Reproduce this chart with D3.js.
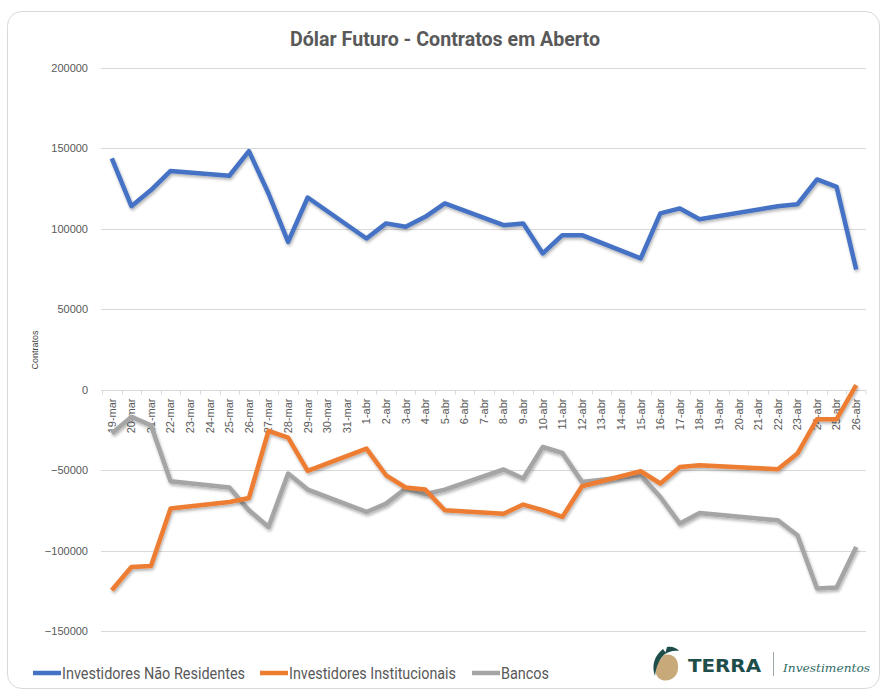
<!DOCTYPE html>
<html>
<head>
<meta charset="utf-8">
<script src="https://cdn.jsdelivr.net/npm/d3@7"></script>
<style>
  body { margin: 0; background: #fff; }
  text { font-family: 'Roboto', 'Liberation Sans', sans-serif; }
</style>
</head>
<body>
<div class="canvas"></div>
<script>
// data
const days = ["19-mar","20-mar","21-mar","22-mar","23-mar","24-mar","25-mar","26-mar","27-mar","28-mar","29-mar","30-mar","31-mar",
  "1-abr","2-abr","3-abr","4-abr","5-abr","6-abr","7-abr","8-abr","9-abr","10-abr","11-abr","12-abr","13-abr","14-abr","15-abr",
  "16-abr","17-abr","18-abr","19-abr","20-abr","21-abr","22-abr","23-abr","24-abr","25-abr","26-abr"];

const naoResidentes = [143800,114100,124100,136000,null,null,133000,148300,122000,91900,119500,null,null,
  94000,103400,101300,107500,115800,null,null,102300,103400,84700,96100,96100,null,null,81600,
  109600,112700,106000,null,null,null,114000,115300,130700,126100,74700];

const institucionais = [-124700,-110200,-109600,-73900,null,null,-69800,-67300,-25600,-29800,-50500,null,null,
  -36600,-53200,-60800,-62100,-74900,null,null,-77100,-71400,-74900,-79100,-60000,null,null,-50700,
  -58300,-48000,-47000,null,null,null,-49400,-39700,-18300,-18300,2800];

const bancos = [-27200,-16900,-22100,-56900,null,null,-60800,-74900,-85300,-52100,-62100,null,null,
  -76000,-70800,-61400,-65000,-62100,null,null,-49600,-55200,-35600,-39300,-57300,null,null,-53200,
  -66700,-83200,-76600,null,null,null,-81200,-90500,-123600,-123000,-97800];

const yTicks = [200000,150000,100000,50000,0,-50000,-100000,-150000];
const seriesNames = ["Investidores Não Residentes","Investidores Institucionais","Bancos"];
const colors = ["#4472C4","#ED7D31","#A5A5A5"];

const W = 882, H = 691;
const svg = d3.select('.canvas').append('svg')
    .attr('width', W)
    .attr('height', H);

const defs = svg.append('defs');
const f = defs.append('filter').attr('id','shadow').attr('x','-5%').attr('y','-5%').attr('width','110%').attr('height','120%');
f.append('feDropShadow').attr('dx',1).attr('dy',2).attr('stdDeviation',1.5)
  .attr('flood-color','#000').attr('flood-opacity',0.3);

// outer frame
svg.append('rect')
  .attr('x', 7.5).attr('y', 11.5).attr('width', 872).attr('height', 677)
  .attr('rx', 14).attr('fill', '#fff').attr('stroke', '#d9d9d9').attr('stroke-width', 1);

// title
svg.append('text')
  .attr('x', 445).attr('y', 46)
  .attr('text-anchor', 'middle')
  .attr('textLength', 310).attr('lengthAdjust', 'spacingAndGlyphs')
  .style('font-size', '20px').style('font-weight', 'bold').style('fill', '#595959')
  .text('Dólar Futuro - Contratos em Aberto');

const x = d3.scaleBand().domain(days).range([102, 866]).padding(0);
const y = d3.scaleLinear().domain([-150000, 200000]).range([631, 68]);

// gridlines
svg.append('g').selectAll('line')
  .data(yTicks.filter(d => d !== 0))
  .enter().append('line')
    .attr('x1', 101).attr('x2', 866)
    .attr('y1', d => Math.round(y(d)) + 0.5).attr('y2', d => Math.round(y(d)) + 0.5)
    .attr('stroke', '#d9d9d9').attr('stroke-width', 1);

// y axis labels
const yAxis = svg.append('g')
  .attr('transform', 'translate(101,0)')
  .call(d3.axisLeft(y).tickValues(yTicks).tickSize(0).tickPadding(13).tickFormat(d3.format('d')));
yAxis.select('.domain').remove();
yAxis.selectAll('text')
  .style('font-family', "'Liberation Sans', sans-serif")
  .style('font-size', '11px').style('fill', '#595959');

// y axis title
svg.append('text')
  .attr('transform', 'translate(38,' + 350 + ') rotate(-90)')
  .attr('text-anchor', 'middle')
  .style('font-family', "'Liberation Sans', sans-serif")
  .style('font-size', '9px').style('fill', '#404040')
  .text('Contratos');

// x axis at zero
const y0 = Math.round(y(0)) + 0.5;
svg.append('line')
  .attr('x1', 101).attr('x2', 866).attr('y1', y0).attr('y2', y0)
  .attr('stroke', '#d9d9d9').attr('stroke-width', 1);
svg.append('g').selectAll('line')
  .data(days.concat(['__end']))
  .enter().append('line')
    .attr('x1', d => d === '__end' ? 866 : Math.round(x(d)) + 0.5)
    .attr('x2', d => d === '__end' ? 866 : Math.round(x(d)) + 0.5)
    .attr('y1', y0).attr('y2', y0 + 4)
    .attr('stroke', '#d9d9d9');

svg.append('g').selectAll('text')
  .data(days)
  .enter().append('text')
    .attr('transform', d => 'translate(' + (x(d) + x.bandwidth() / 2) + ',' + (y0 + 8) + ') rotate(-90)')
    .attr('text-anchor', 'end')
    .attr('dy', '0.35em')
    .style('font-family', "'Liberation Sans', sans-serif")
    .style('font-size', '11px').style('fill', '#595959')
    .text(d => d);

// lines
const series = [naoResidentes, institucionais, bancos];
const line = d3.line()
  .x(d => x(d.day) + x.bandwidth() / 2)
  .y(d => y(d.value));

// draw gray first, then orange, then blue on top
[2, 1, 0].forEach(i => {
  const pts = days.map((d, j) => ({day: d, value: series[i][j]})).filter(p => p.value !== null);
  svg.append('path')
    .datum(pts)
    .attr('d', line)
    .attr('fill', 'none')
    .attr('stroke', colors[i])
    .attr('stroke-width', 4.5)
    .attr('stroke-linejoin', 'round')
    .attr('filter', 'url(#shadow)');
});

// legend (narrow font in the original, squeeze to fit)
const legendX = [33, 260, 472];
const legendW = [183, 167, 48];
const lg = svg.append('g');
seriesNames.forEach((n, i) => {
  lg.append('line')
    .attr('x1', legendX[i]).attr('x2', legendX[i] + 28)
    .attr('y1', 673).attr('y2', 673)
    .attr('stroke', colors[i]).attr('stroke-width', 4.5);
  lg.append('text')
    .attr('x', legendX[i] + 29).attr('y', 679)
    .attr('textLength', legendW[i]).attr('lengthAdjust', 'spacingAndGlyphs')
    .style('font-size', '16px').style('fill', '#595959')
    .text(n);
});

// logo
const logo = svg.append('g').attr('transform', 'translate(651,645)');
logo.append('path')
  .attr('d', 'M13,10 C22,8 28,14 27,24 C26,33 18,37 11,35 C5,33 3,26 6,19 Z')
  .attr('fill', '#c8a97a');
logo.append('path')
  .attr('d', 'M12,4 C4,10 0,20 4,31 C5,22 8,14 15,8 Z')
  .attr('fill', '#1e4d4a');
logo.append('path')
  .attr('d', 'M16,2 C21,1 26,3 28,6 C22,5 18,7 14,9 Z')
  .attr('fill', '#1e4d4a');
logo.append('text')
  .attr('x', 37).attr('y', 27)
  .attr('textLength', 73).attr('lengthAdjust', 'spacingAndGlyphs')
  .style('font-family', "'DejaVu Sans', sans-serif")
  .style('font-size', '18px').style('font-weight', 'bold')
  .style('fill', '#1e4d4a')
  .text('TERRA');
logo.append('line')
  .attr('x1', 122.5).attr('x2', 122.5).attr('y1', 7).attr('y2', 31)
  .attr('stroke', '#9aa9a8').attr('stroke-width', 1);
logo.append('text')
  .attr('x', 132).attr('y', 27)
  .attr('textLength', 87).attr('lengthAdjust', 'spacingAndGlyphs')
  .style('font-family', "'DejaVu Serif', serif")
  .style('font-size', '10.5px').style('font-style', 'italic')
  .style('fill', '#2f6b66')
  .text('Investimentos');
</script>
</body>
</html>
